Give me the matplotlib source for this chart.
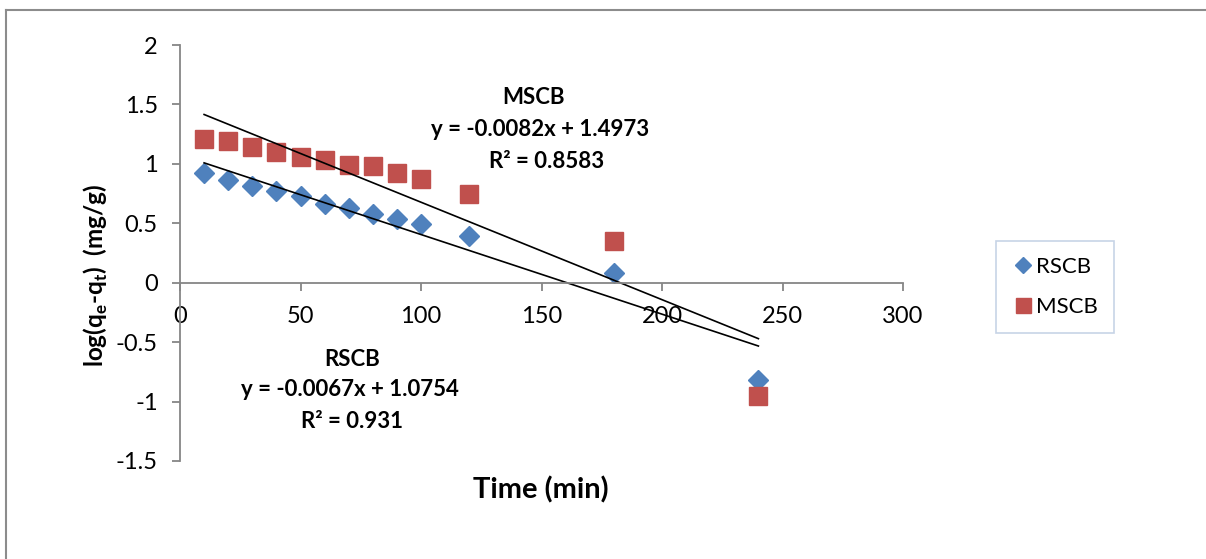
import matplotlib
matplotlib.use("Agg")
import matplotlib.pyplot as plt
import numpy as np
from matplotlib.lines import Line2D

plt.rcParams['font.family'] = ['Lato', 'DejaVu Sans']

time_min = [10, 20, 30, 40, 50, 60, 70, 80, 90, 100, 120, 180, 240]
rscb = [0.92, 0.86, 0.81, 0.77, 0.73, 0.66, 0.63, 0.58, 0.54, 0.49, 0.39, 0.08, -0.82]
mscb = [1.21, 1.19, 1.14, 1.10, 1.06, 1.03, 0.99, 0.98, 0.92, 0.87, 0.75, 0.35, -0.95]

# trendline coefficients (slope, intercept)
rscb_fit = (-0.0067, 1.0754)
mscb_fit = (-0.0082, 1.4973)

blue = '#4F81BD'
red = '#C0504D'
axis_color = '#868686'

fig = plt.figure(figsize=(12.06, 5.59), dpi=100, facecolor='white')
ax = fig.add_axes([180/1206, 1 - 461/559, (903-180)/1206, (461-45)/559])

ax.plot(time_min, rscb, linestyle='none', marker='D', ms=10, color=blue, label='RSCB')
ax.plot(time_min, mscb, linestyle='none', marker='s', ms=13.5, color=red, label='MSCB')

xf = np.array([time_min[0], time_min[-1]])
for slope, icpt in (rscb_fit, mscb_fit):
    ax.plot(xf, slope * xf + icpt, color='black', lw=1.2)

ax.set_xlim(0, 300)
ax.set_ylim(-1.5, 2)
ax.set_xticks(range(0, 301, 50))
ax.set_yticks(np.arange(-1.5, 2.01, 0.5))
ax.set_yticklabels(['-1.5', '-1', '-0.5', '0', '0.5', '1', '1.5', '2'])

# style des axes
ax.spines['top'].set_visible(False)
ax.spines['right'].set_visible(False)
ax.spines['bottom'].set_position(('data', 0))
for s in ('left', 'bottom'):
    ax.spines[s].set_color(axis_color)
    ax.spines[s].set_linewidth(1.3)
ax.tick_params(axis='both', color=axis_color, width=1.3, length=6, labelsize=17, labelcolor='black')
ax.tick_params(axis='x', direction='out', pad=11)
ax.tick_params(axis='y', direction='out', pad=10)

fig.text(541/1206, 1 - 490/559, 'Time (min)', ha='center', va='center', fontsize=21, fontweight='bold')
fig.text(96/1206, 1 - 275/559, r'log(q$_\mathregular{e}$-q$_\mathregular{t}$)  (mg/g)', ha='center', va='center',
         rotation=90, fontsize=17.5, fontweight='bold')

ann = dict(ha='center', va='center', fontsize=16, fontweight='bold')
fig.text(533/1206, 1 - 97/559, 'MSCB', **ann)
fig.text(540/1206, 1 - 130/559, 'y = -0.0082x + 1.4973', **ann)
fig.text(547/1206, 1 - 162/559, 'R² = 0.8583', **ann)
fig.text(352/1206, 1 - 360/559, 'RSCB', **ann)
fig.text(350/1206, 1 - 390/559, 'y = -0.0067x + 1.0754', **ann)
fig.text(352/1206, 1 - 421/559, 'R² = 0.931', **ann)

leg = fig.legend(loc='center', bbox_to_anchor=(1055/1206, 1 - 287/559), fontsize=16,
                 frameon=True, fancybox=False, handletextpad=0.1, handlelength=1.0,
                 labelspacing=0.9, borderpad=0.7, markerscale=0.8)
leg.get_frame().set_edgecolor('#B9C9E0')
leg.get_frame().set_linewidth(1.2)

# chart border
fig.add_artist(Line2D([6/1206, 1], [1 - 10/559, 1 - 10/559], color='#8C8C8C', lw=1.5))
fig.add_artist(Line2D([6/1206, 6/1206], [0, 1 - 10/559], color='#8C8C8C', lw=1.5))

fig.savefig('out.png', dpi=100, facecolor='white')
